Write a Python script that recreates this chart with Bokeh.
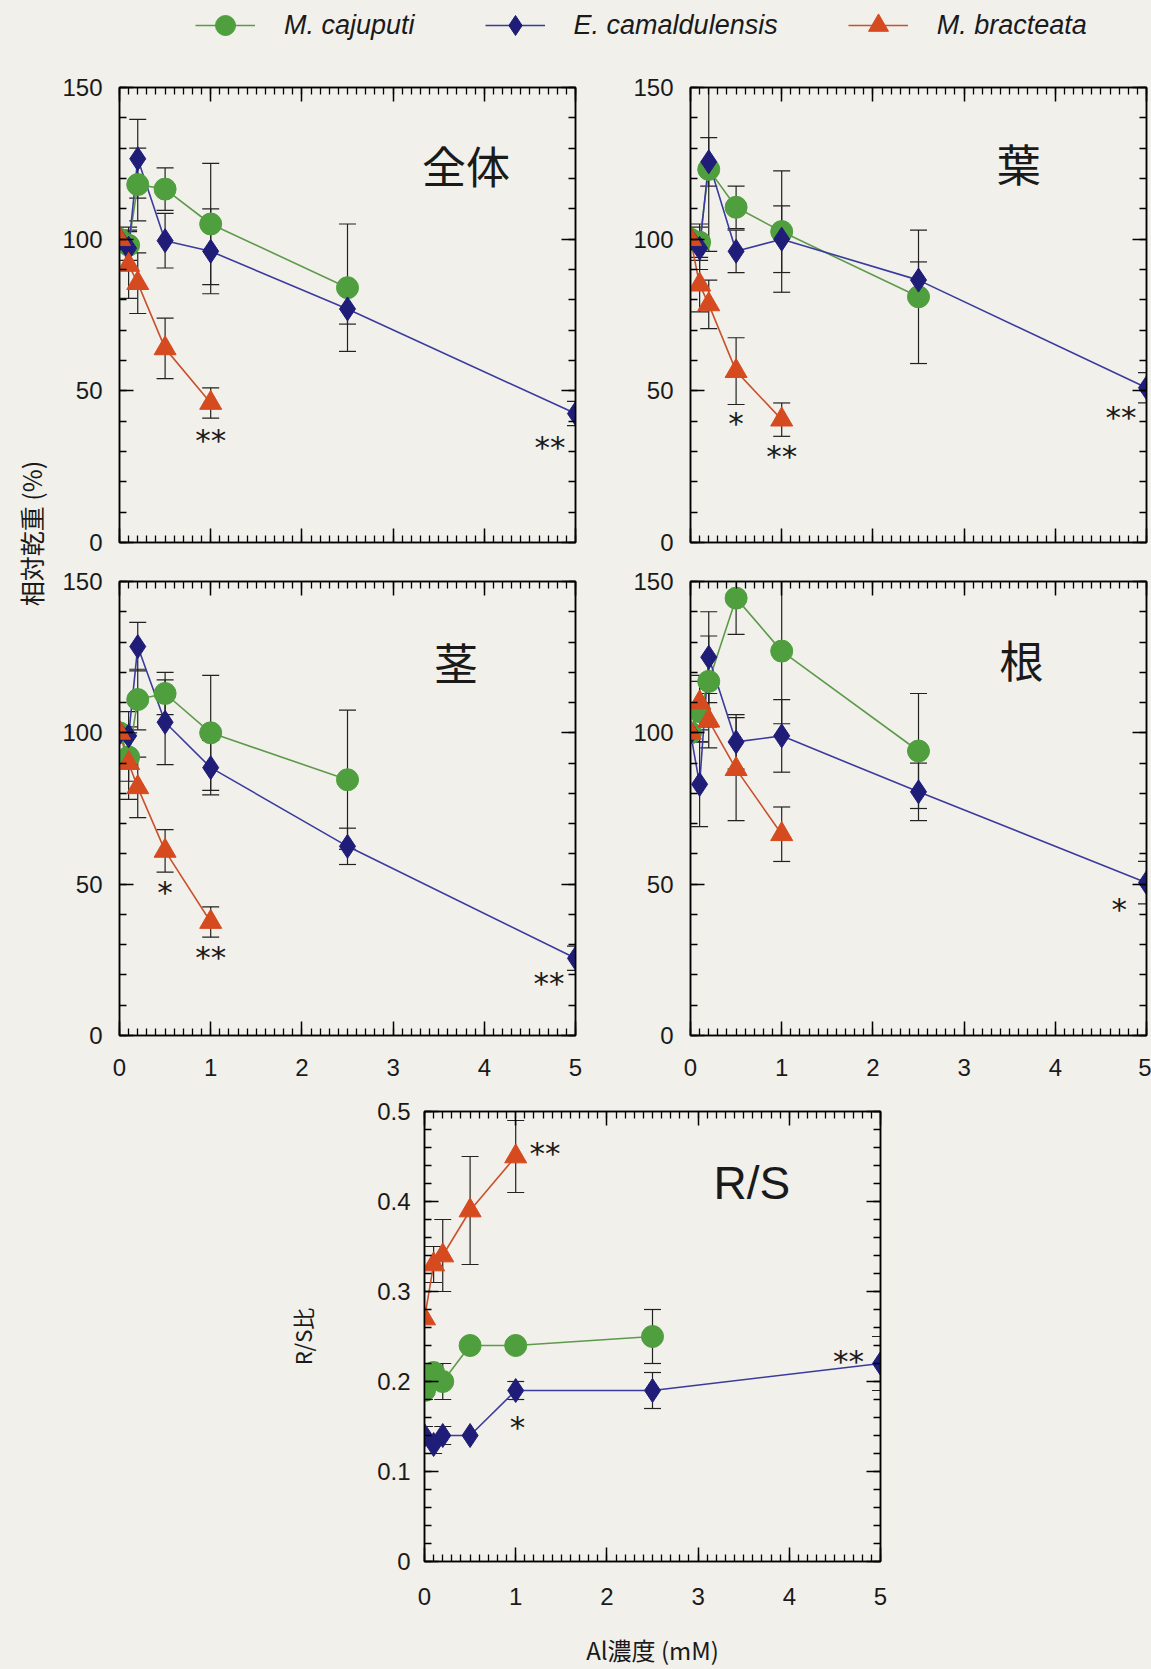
import numpy as np
from bokeh.plotting import figure
from bokeh.models import (Range1d, FixedTicker, LinearAxis, CustomJSTickFormatter, Whisker,
                          TeeHead, ColumnDataSource, Legend, LegendItem, Label)
from bokeh.layouts import row, column
from bokeh.core.properties import value
from bokeh.embed import file_html
from bokeh.resources import INLINE

# ---------------- data ----------------
species = ["M. cajuputi", "E. camaldulensis", "M. bracteata"]
conc_caj = [0, 0.1, 0.2, 0.5, 1, 2.5]
conc_cam = [0, 0.1, 0.2, 0.5, 1, 2.5, 5]
conc_bra = [0, 0.1, 0.2, 0.5, 1]

x_ticks = [0, 1, 2, 3, 4, 5]
x_tick_labels = ["0", "1", "2", "3", "4", "5"]
pct_ticks = [0, 50, 100, 150]
pct_tick_labels = ["0", "50", "100", "150"]
rs_ticks = [0, 0.1, 0.2, 0.3, 0.4, 0.5]
rs_tick_labels = ["0", "0.1", "0.2", "0.3", "0.4", "0.5"]

panel_titles = ["全体", "葉", "茎", "根", "R/S"]
title_x = [3.8, 3.6, 3.69, 3.63, 3.59]
title_y = [124.4, 125.0, 123.5, 124.5, 0.421]

# 全体 (whole plant)
whole_caj = [100, 98, 118, 116.5, 105, 84]
whole_caj_err = [0, 5, 12, 7, 20, 21]
whole_cam = [100, 97, 126.5, 99.5, 96, 77, 42.5]
whole_cam_err = [0, 7, 13, 9, 14, 5, 4]
whole_bra = [100, 91.5, 85.5, 64, 46]
whole_bra_err = [0, 11, 10, 10, 5]
whole_star_x = [1.0, 4.72]
whole_star_y = [36.5, 34]
whole_star_t = ["**", "**"]

# 葉 (leaf)
leaf_caj = [100, 99, 123, 110.5, 102.5, 81]
leaf_caj_err = [0, 6, 27, 7, 20, 22]
leaf_cam = [100, 97, 125.5, 96, 100, 86.5, 51]
leaf_cam_err = [0, 7, 8, 7, 11, 6, 5]
leaf_bra = [100, 85, 78.5, 56.5, 40.5]
leaf_bra_err = [0, 9, 8, 11, 5.5]
leaf_star_x = [0.5, 1.0, 4.72]
leaf_star_y = [42, 31, 44]
leaf_star_t = ["*", "**", "**"]

# 茎 (stem)
stem_caj = [100, 92, 111, 113, 100, 84.5]
stem_caj_err = [0, 8, 10, 7, 19, 23]
stem_cam = [100, 99, 128.5, 103.5, 88.5, 62.5, 25.5]
stem_cam_err = [0, 8, 8, 14, 9, 6, 4]
stem_bra = [100, 90, 82, 61, 37.5]
stem_bra_err = [0, 12, 10, 7, 5]
stem_star_x = [0.5, 1.0, 4.71]
stem_star_y = [50, 28.5, 20]
stem_star_t = ["*", "**", "**"]

# 根 (root)
root_caj = [100, 107, 117, 144.5, 127, 94]
root_caj_err = [0, 10, 15, 12, 24, 19]
root_cam = [100, 83, 125, 97, 99, 80.5, 50.5]
root_cam_err = [0, 14, 15, 9, 12, 9.5, 7]
root_bra = [100, 110, 104, 88, 66.5]
root_bra_err = [0, 9, 9, 17, 9]
root_star_x = [4.7]
root_star_y = [44.5]
root_star_t = ["*"]

# R/S ratio
rs_caj = [0.19, 0.21, 0.20, 0.24, 0.24, 0.25]
rs_caj_err = [0.01, 0.01, 0.02, 0.006, 0.006, 0.03]
rs_cam = [0.14, 0.13, 0.14, 0.14, 0.19, 0.19, 0.22]
rs_cam_err = [0.01, 0.01, 0.01, 0.0, 0.01, 0.02, 0.03]
rs_bra = [0.27, 0.33, 0.34, 0.39, 0.45]
rs_bra_err = [0.0, 0.02, 0.04, 0.06, 0.04]
rs_star_x = [1.32, 1.02, 4.65]
rs_star_y = [0.463, 0.158, 0.232]
rs_star_t = ["**", "*", "**"]

# ---------------- style ----------------
BG = "#f1f0ea"
MARK = ["#4f9f3e", "#1f1d78", "#d64a1f"]
LINE = ["#5e9a4c", "#3b3b9e", "#c9512d"]
MARKERS = ["circle", "diamond", "triangle"]
SIZES = [22, 24, 22]
TICK_FONT = "Liberation Sans"


def style_axis(ax, labels_on, font_px="24px", standoff=18):
    ax.axis_line_color = "black"
    ax.axis_line_width = 1.5
    ax.major_tick_in = 14
    ax.major_tick_out = 0
    ax.minor_tick_in = 7
    ax.minor_tick_out = 0
    ax.major_tick_line_width = 1.5
    ax.minor_tick_line_width = 1.3
    ax.major_tick_line_color = "black"
    ax.minor_tick_line_color = "black"
    ax.major_label_text_font = TICK_FONT
    ax.major_label_text_font_size = font_px
    ax.major_label_text_color = "#1a1a1a"
    if labels_on:
        ax.major_label_standoff = standoff
    else:
        ax.formatter = CustomJSTickFormatter(code="return ''")
        ax.major_label_overrides = {}
        ax.major_label_standoff = 0


def make_panel(width, height, borders, y_end, y_major, y_labels, y_minor, series, stars,
               title_idx, title_font, title_size, xlabels_on):
    p = figure(width=width, height=height, x_range=Range1d(0, 5), y_range=Range1d(0, y_end),
               output_backend="svg", toolbar_location=None,
               x_axis_location=None, y_axis_location=None,
               min_border_left=borders[0], min_border_right=borders[1],
               min_border_top=borders[2], min_border_bottom=borders[3],
               background_fill_color=BG, border_fill_color=BG,
               outline_line_color="black", outline_line_width=1.5)
    p.grid.visible = False

    xt = FixedTicker(ticks=x_ticks, minor_ticks=list(np.round(np.arange(0, 5.01, 0.1), 2)))
    yt = FixedTicker(ticks=y_major, minor_ticks=y_minor)

    xb = LinearAxis(ticker=xt)
    if xlabels_on:
        xb.major_label_overrides = dict(zip(x_ticks, x_tick_labels))
    style_axis(xb, xlabels_on, standoff=23)
    p.add_layout(xb, "below")
    xa = LinearAxis(ticker=xt)
    style_axis(xa, False)
    p.add_layout(xa, "above")
    yl = LinearAxis(ticker=yt, major_label_overrides=dict(zip(y_major, y_labels)))
    style_axis(yl, True, standoff=17)
    p.add_layout(yl, "left")
    yr = LinearAxis(ticker=yt)
    style_axis(yr, False)
    p.add_layout(yr, "right")

    # error bars
    for i, (xs, ys, es) in enumerate(series):
        xx = [x for x, e in zip(xs, es) if e > 0]
        up = [y + e for y, e in zip(ys, es) if e > 0]
        lo = [y - e for y, e in zip(ys, es) if e > 0]
        src = ColumnDataSource(dict(base=xx, upper=up, lower=lo))
        w = Whisker(base="base", upper="upper", lower="lower", source=src,
                    line_color="#222222", line_width=1.2, level="underlay",
                    upper_head=TeeHead(size=17, line_color="#222222", line_width=1.2),
                    lower_head=TeeHead(size=17, line_color="#222222", line_width=1.2))
        p.add_layout(w)
    # lines
    for i, (xs, ys, es) in enumerate(series):
        p.line(xs, ys, line_color=LINE[i], line_width=1.6)
    # markers
    for i, (xs, ys, es) in enumerate(series):
        p.scatter(xs, ys, marker=MARKERS[i], size=SIZES[i], fill_color=MARK[i],
                  line_color=MARK[i], line_width=1)

    sx, sy, st = stars
    p.text(x=sx, y=sy, text=st, text_font=value("DejaVu Sans"), text_font_size="31px",
           text_align="center", text_baseline="middle", text_color="#1a1a1a", y_offset=8)

    p.text(x=[title_x[title_idx]], y=[title_y[title_idx]], text=[panel_titles[title_idx]],
           text_font=value(title_font), text_font_size=title_size, text_align="center",
           text_baseline="middle", text_color="#1a1a1a")
    return p, xb, yl


pct_minor = list(range(0, 151, 10))
rs_minor = list(np.round(np.arange(0, 0.501, 0.02), 3))

p_whole, _, _ = make_panel(570, 492, (69, 45, 17, 20), 150, pct_ticks, pct_tick_labels, pct_minor,
                           [(conc_caj, whole_caj, whole_caj_err), (conc_cam, whole_cam, whole_cam_err),
                            (conc_bra, whole_bra, whole_bra_err)],
                           (whole_star_x, whole_star_y, whole_star_t), 0, "Noto Sans CJK JP", "44px", False)
p_leaf, _, _ = make_panel(531, 492, (70, 5, 17, 20), 150, pct_ticks, pct_tick_labels, pct_minor,
                          [(conc_caj, leaf_caj, leaf_caj_err), (conc_cam, leaf_cam, leaf_cam_err),
                           (conc_bra, leaf_bra, leaf_bra_err)],
                          (leaf_star_x, leaf_star_y, leaf_star_t), 1, "Noto Sans CJK JP", "44px", False)
p_stem, _, _ = make_panel(570, 523, (69, 45, 19, 50), 150, pct_ticks, pct_tick_labels, pct_minor,
                          [(conc_caj, stem_caj, stem_caj_err), (conc_cam, stem_cam, stem_cam_err),
                           (conc_bra, stem_bra, stem_bra_err)],
                          (stem_star_x, stem_star_y, stem_star_t), 2, "Noto Sans CJK JP", "44px", True)
p_root, _, _ = make_panel(531, 523, (70, 5, 19, 50), 150, pct_ticks, pct_tick_labels, pct_minor,
                          [(conc_caj, root_caj, root_caj_err), (conc_cam, root_cam, root_cam_err),
                           (conc_bra, root_bra, root_bra_err)],
                          (root_star_x, root_star_y, root_star_t), 3, "Noto Sans CJK JP", "44px", True)
p_rs, rs_x, rs_y = make_panel(1151, 584, (424, 271, 26, 106), 0.5, rs_ticks, rs_tick_labels, rs_minor,
                              [(conc_caj, rs_caj, rs_caj_err), (conc_cam, rs_cam, rs_cam_err),
                               (conc_bra, rs_bra, rs_bra_err)],
                              (rs_star_x, rs_star_y, rs_star_t), 4, "Liberation Sans", "46px", True)
rs_y.axis_label = "R/S比"
rs_y.axis_label_standoff = 56
rs_y.axis_label_text_font = "Noto Sans CJK JP"
rs_y.axis_label_text_font_size = "22px"
rs_y.axis_label_text_font_style = "normal"
rs_y.axis_label_text_color = "#1a1a1a"
rs_y.major_label_standoff = 14
rs_x.axis_label = "Al濃度 (mM)"
rs_x.axis_label_standoff = 24
rs_x.axis_label_text_font = "Noto Sans CJK JP"
rs_x.axis_label_text_font_size = "24px"
rs_x.axis_label_text_font_style = "normal"
rs_x.axis_label_text_color = "#1a1a1a"
rs_x.major_label_standoff = 26

# ---------------- legend strip ----------------
leg = figure(width=1151, height=70, x_range=Range1d(0, 1), y_range=Range1d(0, 1),
             output_backend="svg", toolbar_location=None, x_axis_type=None, y_axis_type=None,
             min_border=0, background_fill_color=BG, border_fill_color=BG,
             outline_line_color=None)
leg.grid.visible = False
items = []
for i, name in enumerate(species):
    # points outside the visible range so the legend can draw its swatch
    src = ColumnDataSource(dict(x=[-5, -4], y=[-5, -5]))
    lr = leg.line("x", "y", source=src, line_color=LINE[i], line_width=1.6)
    sr = leg.scatter("x", "y", source=src, marker=MARKERS[i], fill_color=MARK[i],
                     line_color=MARK[i])
    items.append(LegendItem(label=name, renderers=[lr, sr]))
legend = Legend(items=items, orientation="horizontal", location=(195, 20),
                glyph_width=60, glyph_height=50, label_standoff=29, spacing=70,
                padding=0, margin=0, border_line_color=None, background_fill_alpha=0,
                label_text_font="Liberation Sans", label_text_font_style="italic",
                label_text_font_size="27px", label_text_color="#1a1a1a")
leg.add_layout(legend)

# ---------------- shared y label strip ----------------
ylab = figure(width=50, height=1015, x_range=Range1d(0, 50), y_range=Range1d(0, 1015),
              output_backend="svg", toolbar_location=None, x_axis_type=None, y_axis_type=None,
              min_border=0, background_fill_color=BG, border_fill_color=BG,
              outline_line_color=None)
ylab.grid.visible = False
ylab.add_layout(Label(x=30, y=552, x_units="screen", y_units="screen", text="相対乾重 (%)",
                      angle=np.pi / 2, text_align="center", text_baseline="middle",
                      text_font="Noto Sans CJK JP", text_font_size="25px",
                      text_color="#1a1a1a"))

layout = column(row(leg),
                row(ylab, column(row(p_whole, p_leaf), row(p_stem, p_root))),
                row(p_rs))

html = file_html(layout, INLINE, title="Al")
html = html.replace("<body>", '<body style="margin:0;background:%s;">' % BG)
open("out.html", "w").write(html)
